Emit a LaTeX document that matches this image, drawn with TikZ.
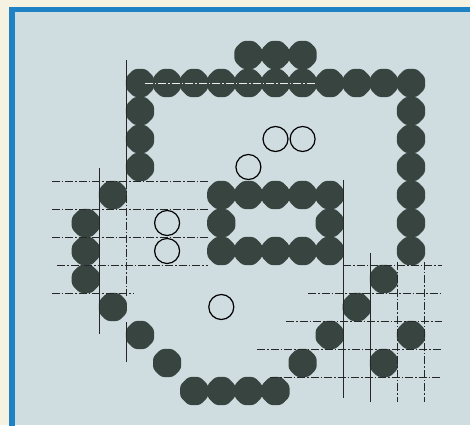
\documentclass[tikz,border=0pt]{standalone}
\usetikzlibrary{shapes.geometric}
\definecolor{cream}{RGB}{246,242,226}
\definecolor{boardbg}{RGB}{207,221,224}
\definecolor{frameblue}{RGB}{30,130,196}
\definecolor{stonecol}{RGB}{56,68,64}
\tikzset{
  blackstone/.style={regular polygon, regular polygon sides=8, minimum size=30.5pt, inner sep=0pt, fill=stonecol, rounded corners=3pt},
  whitestone/.style={circle, minimum size=25pt, inner sep=0pt, draw=black, line width=1.2pt, fill=boardbg},
  gridsolid/.style={black!85, line width=0.8pt},
  griddash/.style={black!85, line width=0.8pt, dash pattern=on 8pt off 2pt on 1.5pt off 2pt},
  glint/.style={white!85!gray, line width=0.9pt, dash pattern=on 8pt off 2pt on 1.5pt off 2pt},
}
\begin{document}
\begin{tikzpicture}
\useasboundingbox (0,0) rectangle (470pt,-425pt);
\fill[cream] (0,0) rectangle (470pt,-425pt);
\fill[boardbg] (12pt,-9.5pt) rectangle (470pt,-425pt);
\draw[frameblue, line width=5.5pt, line join=miter] (12pt,-426pt) -- (12pt,-9.5pt) -- (472pt,-9.5pt);
\begin{scope}[shift={(140pt,-55pt)}, x=27.1pt, y=-28pt]
  % black stones
  \foreach \c/\r in {4/0,5/0,6/0,
      0/1,1/1,2/1,3/1,4/1,5/1,6/1,7/1,8/1,9/1,10/1,
      0/2,0/3,0/4,
      10/2,10/3,10/4,10/5,10/6,10/7,
      3/5,4/5,5/5,6/5,7/5,3/6,7/6,3/7,4/7,5/7,6/7,7/7,
      -1/5,-2/6,-2/7,-2/8,-1/9,0/10,1/11,2/12,3/12,4/12,5/12,6/11,7/10,
      9/8,8/9,10/10,9/11}
    \node[blackstone] (b\c r\r) at (\c,\r) {};
  % grid lines, left part
  \draw[gridsolid] (-0.5,0.18) -- (-0.5,4.5);
  \draw[griddash] (-0.5,4.5) -- (-0.5,8.6);
  \draw[gridsolid] (-0.5,9.54) -- (-0.5,10.96);
  \draw[gridsolid] (-1.5,4.04) -- (-1.5,9.96);
  \draw[griddash] (-3.25,4.5) -- (2.5,4.5);
  \draw[griddash] (-3.25,5.5) -- (2.5,5.5);
  \draw[griddash] (-3.25,6.5) -- (2.5,6.5);
  \draw[griddash] (-3.06,7.5) -- (2.5,7.5);
  \draw[griddash] (-3.25,8.5) -- (-0.26,8.5);
  % grid lines, right part
  \draw[gridsolid] (7.5,4.46) -- (7.5,12.25);
  \draw[gridsolid] (8.5,7.07) -- (8.5,12.39);
  \draw[griddash] (9.5,7.39) -- (9.5,12.39);
  \draw[griddash] (10.5,7.39) -- (10.5,12.39);
  \draw[griddash] (7.5,7.5) -- (11.14,7.5);
  \draw[griddash] (6.2,8.5) -- (11.14,8.5);
  \draw[griddash] (5.39,9.5) -- (11.14,9.5);
  \draw[griddash] (4.32,10.5) -- (11.14,10.5);
  \draw[griddash] (4.8,11.5) -- (11.14,11.5);
  % light line through top row
  \draw[glint] (0.18,1) -- (6.46,1);
  % white stones
  \foreach \c/\r in {5/3,6/3,4/4,1/6,1/7,3/9}
    \node[whitestone] (w\c r\r) at (\c,\r) {};
\end{scope}
\end{tikzpicture}
\end{document}
